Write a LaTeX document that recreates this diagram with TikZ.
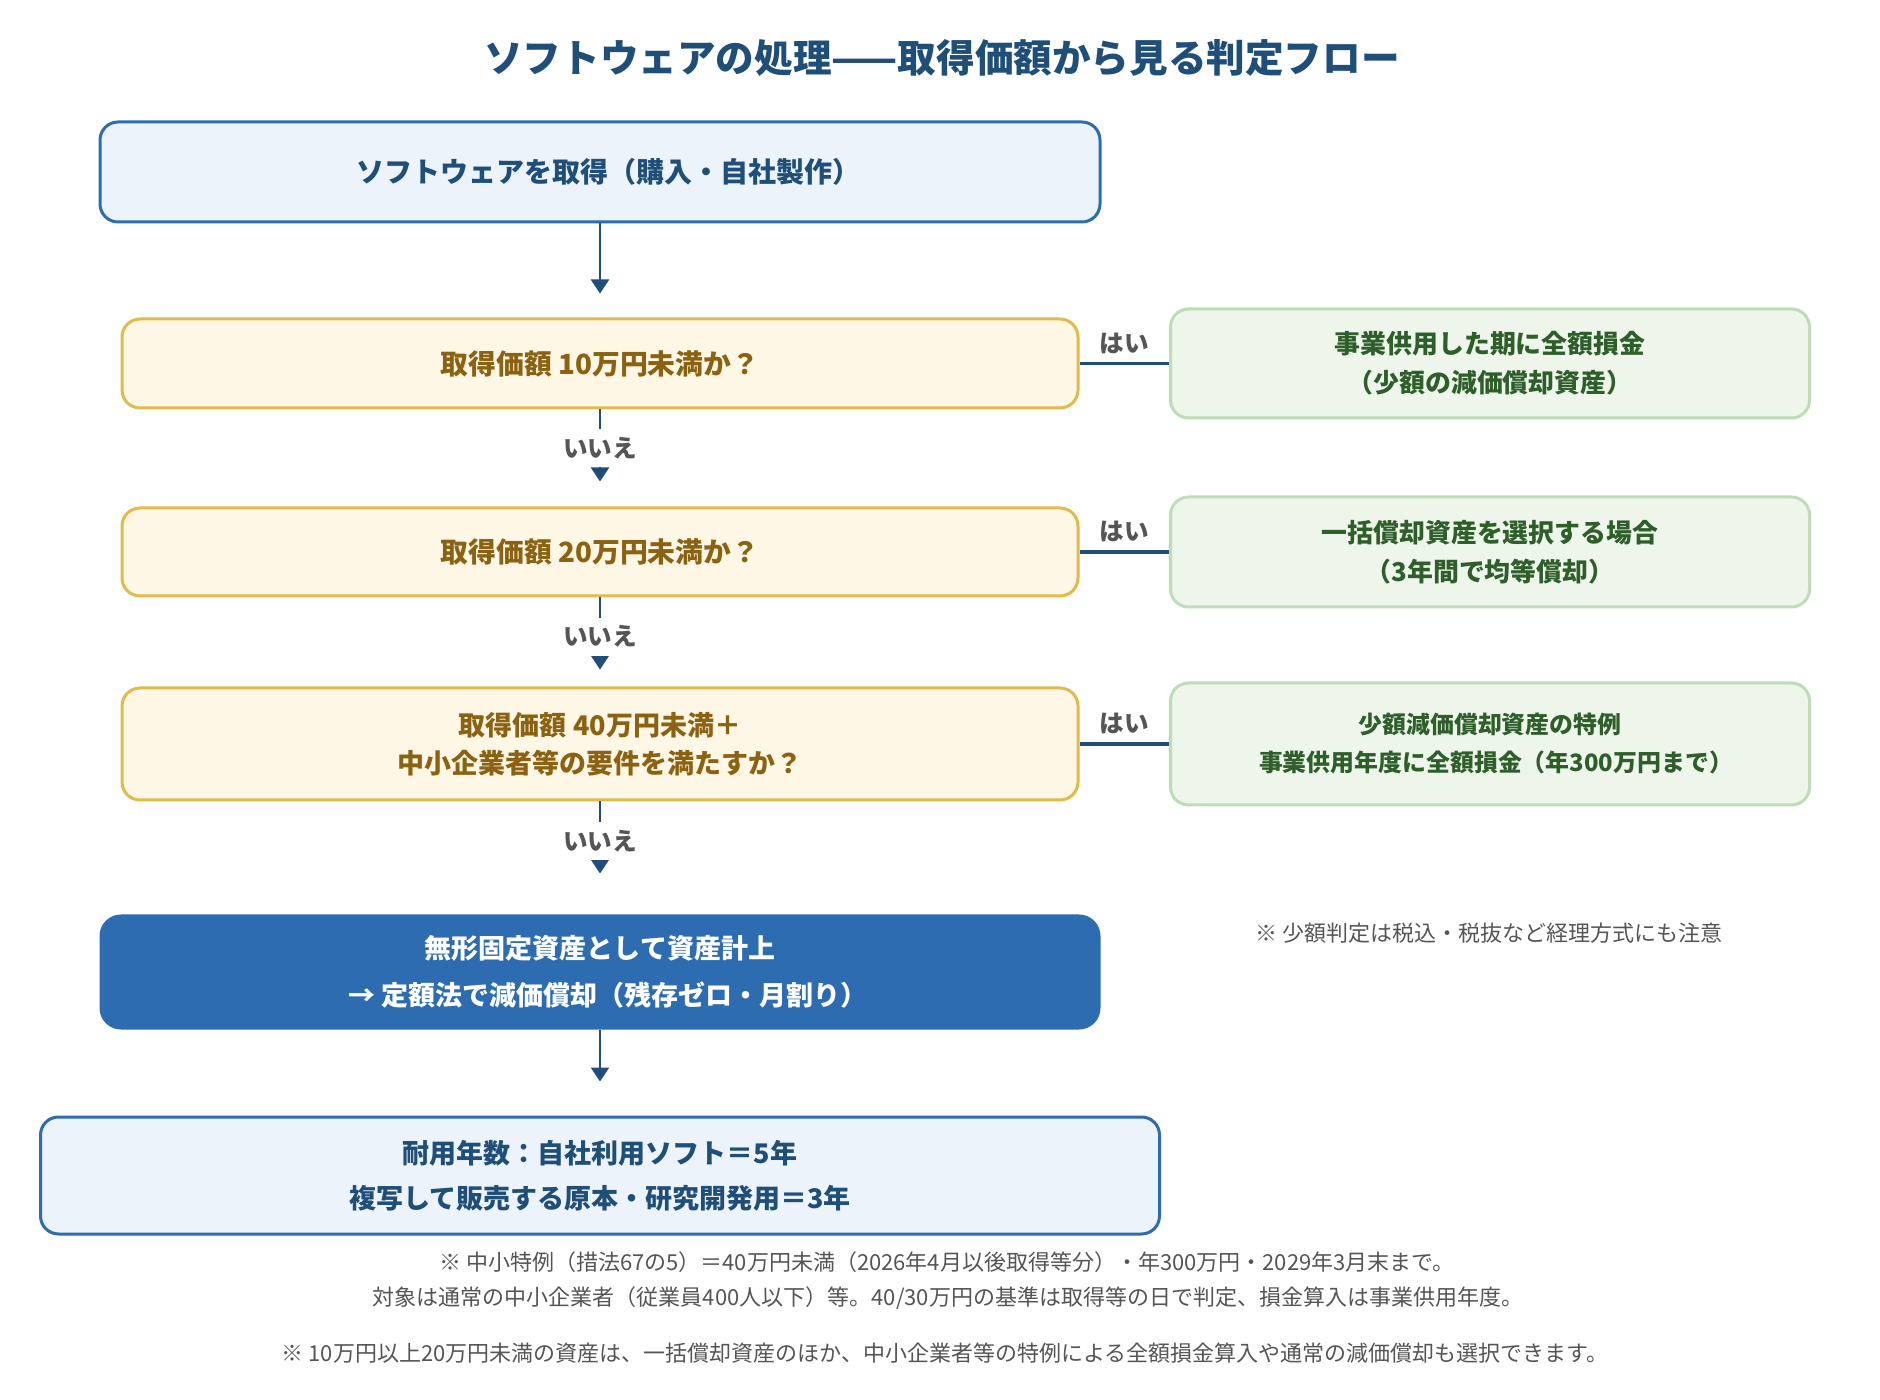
\documentclass[tikz,border=0pt]{standalone}
\usepackage{fontspec}
\setmainfont{Noto Sans CJK JP}
\usetikzlibrary{arrows.meta}
\definecolor{titleblue}{HTML}{1F4E79}
\definecolor{boxblue}{HTML}{2D6CB0}
\definecolor{lightblue}{HTML}{ECF3FB}
\definecolor{yelfill}{HTML}{FFF7E6}
\definecolor{yelline}{HTML}{E2B94C}
\definecolor{yeltext}{HTML}{8A6212}
\definecolor{grnfill}{HTML}{EEF6EC}
\definecolor{grnline}{HTML}{BEDCB8}
\definecolor{grntext}{HTML}{2E5E2A}
\definecolor{graytext}{HTML}{555555}
\tikzset{
  base/.style={rounded corners=9pt, line width=1.5pt, align=center, inner sep=2pt},
  startbox/.style={base, draw=boxblue, fill=lightblue, text=titleblue, font=\fontsize{14pt}{22pt}\selectfont\bfseries},
  qbox/.style={base, draw=yelline, fill=yelfill, text=yeltext, minimum width=478pt, font=\fontsize{13.9pt}{19pt}\selectfont\bfseries},
  gbox/.style={base, draw=grnline, fill=grnfill, text=grntext, minimum width=319.5pt, font=\fontsize{12.95pt}{19.5pt}\selectfont\bfseries},
  endbox/.style={base, rounded corners=10pt, draw=boxblue, fill=boxblue, text=white, font=\fontsize{13.5pt}{23.5pt}\selectfont\bfseries},
  conn/.style={draw=titleblue, line width=1.2pt},
  hconn/.style={draw=titleblue, line width=1.6pt},
  arr/.style={conn, -{Triangle[length=7pt, width=9pt]}},
  yes/.style={text=graytext, font=\fontsize{12.3pt}{14pt}\selectfont\bfseries, above, inner sep=4pt},
  no/.style={fill=white, text=graytext, font=\fontsize{12.3pt}{14pt}\selectfont\bfseries, minimum height=19pt, inner sep=0pt},
  note/.style={text=graytext, font=\fontsize{11pt}{14pt}\selectfont},
}
\begin{document}
\begin{tikzpicture}[x=0.5pt, y=-0.5pt]
\useasboundingbox[fill=white] (0,0) rectangle (1880,1400);

\node[text=titleblue, font=\fontsize{19.3pt}{24pt}\selectfont\bfseries] (title) at (942,58) {ソフトウェアの処理——取得価額から見る判定フロー};

\node[startbox, minimum width=500pt, minimum height=50pt] (b1) at (600,172) {\hspace*{8pt}ソフトウェアを取得（購入・自社製作）};

\node[qbox, minimum height=44.5pt] (b2) at (600,363.5) {取得価額 10万円未満か？};
\node[qbox, minimum height=44pt] (b3) at (600,552) {取得価額 20万円未満か？};
\node[qbox, minimum height=56pt, font=\fontsize{13.5pt}{19pt}\selectfont\bfseries] (b4) at (600,744) {取得価額 40万円未満＋\\中小企業者等の要件を満たすか？};

\node[gbox, minimum height=54.5pt] (g1) at (1490,363.5) {事業供用した期に全額損金\\（少額の減価償却資産）};
\node[gbox, minimum height=55pt] (g2) at (1490,552) {一括償却資産を選択する場合\\（3年間で均等償却）};
\node[gbox, minimum height=61pt, font=\fontsize{11.95pt}{19pt}\selectfont\bfseries] (g3) at (1490,744) {少額減価償却資産の特例\\\hspace*{6pt}事業供用年度に全額損金（年300万円まで）};

\node[endbox, minimum width=499pt, minimum height=56pt] (b5) at (600,972) {無形固定資産として資産計上\\\hspace*{8pt}→ 定額法で減価償却（残存ゼロ・月割り）};

\node[startbox, minimum width=559.5pt, minimum height=58.5pt, font=\fontsize{13.5pt}{22.5pt}\selectfont\bfseries] (b6) at (600,1175.5) {耐用年数：自社利用ソフト＝5年\\複写して販売する原本・研究開発用＝3年};

\node[note] (n0) at (1489,933) {※ 少額判定は税込・税抜など経理方式にも注意};
\node[note] (n1) at (947,1262) {※ 中小特例（措法67の5）＝40万円未満（2026年4月以後取得等分）・年300万円・2029年3月末まで。};
\node[note] (n2) at (948,1298) {対象は通常の中小企業者（従業員400人以下）等。40/30万円の基準は取得等の日で判定、損金算入は事業供用年度。};
\node[note] (n3) at (945,1353) {※ 10万円以上20万円未満の資産は、一括償却資産のほか、中小企業者等の特例による全額損金算入や通常の減価償却も選択できます。};

% vertical connectors
\draw[arr, shorten >=12pt] (b1.south) -- (b2.north);
\draw[arr, shorten >=12.5pt] (b2.south) -- (b3.north) node[no, pos=0.40] {いいえ};
\draw[arr, shorten >=8.5pt] (b3.south) -- (b4.north) node[no, pos=0.44] {いいえ};
\draw[arr, shorten >=20.5pt] (b4.south) -- (b5.north) node[no, pos=0.35] {いいえ};
\draw[arr, shorten >=17pt] (b5.south) -- (b6.north);

% horizontal connectors
\draw[hconn] (b2.east) -- (g1.west) node[yes, midway] {はい};
\draw[hconn] (b3.east) -- (g2.west) node[yes, midway] {はい};
\draw[hconn] (b4.east) -- (g3.west) node[yes, midway] {はい};
\end{tikzpicture}
\end{document}
